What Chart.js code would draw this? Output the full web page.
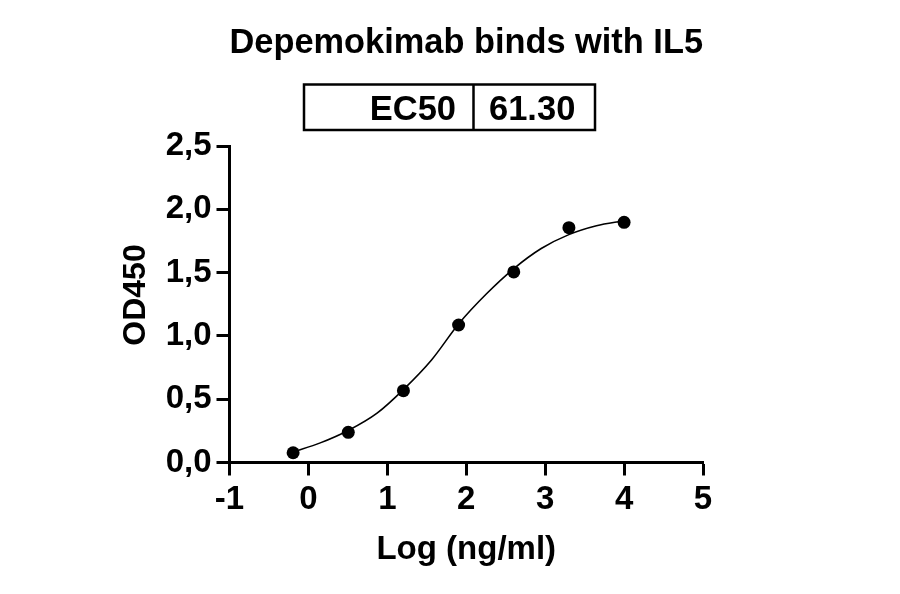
<!DOCTYPE html>
<html>
<head>
<meta charset="utf-8">
<script src="https://cdn.jsdelivr.net/npm/chart.js@4.4.1/dist/chart.umd.min.js"></script>
<style>
  html, body { margin: 0; padding: 0; background: #ffffff; }
  #wrap { position: relative; width: 900px; height: 594px; }
</style>
</head>
<body>
<div id="wrap"><canvas id="c"></canvas></div>
<script>
// ---- data ----
const chartTitle = "Depemokimab binds with IL5";
const xAxisTitle = "Log (ng/ml)";
const yAxisTitle = "OD450";
const ec50Label = "EC50";
const ec50Value = "61.30";

// measured points: log10 concentration (ng/ml) vs OD450
const logConc = [-0.194, 0.505, 1.204, 1.903, 2.602, 3.301, 4.0];
const od450   = [0.077, 0.238, 0.567, 1.086, 1.505, 1.855, 1.897];

// fitted curve at several positions
const curveX = [-0.19, 0.15, 0.51, 0.87, 1.21, 1.56, 1.91, 2.26, 2.60, 2.95, 3.30, 3.65, 4.00];
const curveY = [0.085, 0.155, 0.255, 0.39, 0.58, 0.81, 1.10, 1.335, 1.53, 1.69, 1.80, 1.87, 1.91];

// tick labels
const xTickLabels = ["-1", "0", "1", "2", "3", "4", "5"];
const yTickLabels = ["0,0", "0,5", "1,0", "1,5", "2,0", "2,5"];

const FONT = "'Liberation Sans', Arial, Helvetica, sans-serif";

const pointData = logConc.map((x, i) => ({ x: x, y: od450[i] }));
const curveData = curveX.map((x, i) => ({ x: x, y: curveY[i] }));

const annotationPlugin = {
  id: 'extras',
  afterDraw(chart) {
    const ctx = chart.ctx;
    ctx.save();
    // EC50 table
    ctx.strokeStyle = '#000';
    ctx.lineWidth = 2.5;
    ctx.strokeRect(304, 84.5, 291, 45.5);
    ctx.beginPath();
    ctx.moveTo(473.5, 84.5);
    ctx.lineTo(473.5, 130);
    ctx.stroke();
    ctx.fillStyle = '#000';
    ctx.font = "bold 34.5px " + FONT;
    ctx.textBaseline = 'alphabetic';
    ctx.textAlign = 'right';
    ctx.fillText(ec50Label, 456, 119.5);
    ctx.textAlign = 'left';
    ctx.fillText(ec50Value, 489, 119.5);
    // Y axis title
    ctx.translate(145, 295);
    ctx.rotate(-Math.PI / 2);
    ctx.font = "bold 32px " + FONT;
    ctx.textAlign = 'center';
    ctx.fillText(yAxisTitle, 0, 0);
    ctx.restore();
  }
};

new Chart(document.getElementById('c'), {
  type: 'scatter',
  data: {
    datasets: [
      {
        label: 'OD450',
        data: pointData,
        showLine: false,
        pointRadius: 6.5,
        pointHoverRadius: 6.5,
        pointBackgroundColor: '#000',
        pointBorderWidth: 0,
        order: 0
      },
      {
        label: 'fit',
        type: 'line',
        data: curveData,
        showLine: true,
        borderColor: '#000',
        borderWidth: 1.6,
        pointRadius: 0,
        cubicInterpolationMode: 'monotone',
        fill: false,
        order: 1
      }
    ]
  },
  options: {
    responsive: true,
    maintainAspectRatio: false,
    animation: false,
    devicePixelRatio: 1,
    layout: { padding: { left: 0, right: 197, top: 0, bottom: 0 } },
    plugins: {
      legend: { display: false },
      tooltip: { enabled: false },
      title: {
        display: true,
        text: chartTitle,
        fullSize: false,
        color: '#000',
        font: { family: FONT, size: 34.5, weight: 'bold', lineHeight: 1.2 },
        padding: { top: 23, bottom: 81.6 }
      }
    },
    scales: {
      x: {
        type: 'linear',
        min: -1,
        max: 5,
        afterFit(scale) { scale.height = 131.5; },
        afterBuildTicks(scale) {
          scale.ticks = xTickLabels.map(t => ({ value: Number(t) }));
        },
        ticks: {
          stepSize: 1,
          color: '#000',
          padding: 5,
          font: { family: FONT, size: 33, weight: 'bold' },
          callback: (v, i) => xTickLabels[i]
        },
        grid: {
          display: true,
          drawOnChartArea: false,
          drawTicks: true,
          tickLength: 13,
          tickWidth: 3,
          tickColor: '#000'
        },
        border: { display: true, color: '#000', width: 3 },
        title: {
          display: true,
          text: xAxisTitle,
          color: '#000',
          font: { family: FONT, size: 33, weight: 'bold', lineHeight: 1.2 },
          padding: { top: 0, bottom: 24.2 }
        }
      },
      y: {
        type: 'linear',
        min: 0,
        max: 2.5,
        afterFit(scale) { scale.width = 229.5; },
        afterBuildTicks(scale) {
          scale.ticks = yTickLabels.map(t => ({ value: Number(t.replace(',', '.')) }));
        },
        ticks: {
          stepSize: 0.5,
          color: '#000',
          padding: 5,
          font: { family: FONT, size: 33, weight: 'bold' },
          callback: (v, i) => yTickLabels[i]
        },
        grid: {
          display: true,
          drawOnChartArea: false,
          drawTicks: true,
          tickLength: 13,
          tickWidth: 3,
          tickColor: '#000'
        },
        border: { display: true, color: '#000', width: 3 },
        title: { display: false }
      }
    }
  },
  plugins: [annotationPlugin]
});
</script>
</body>
</html>
